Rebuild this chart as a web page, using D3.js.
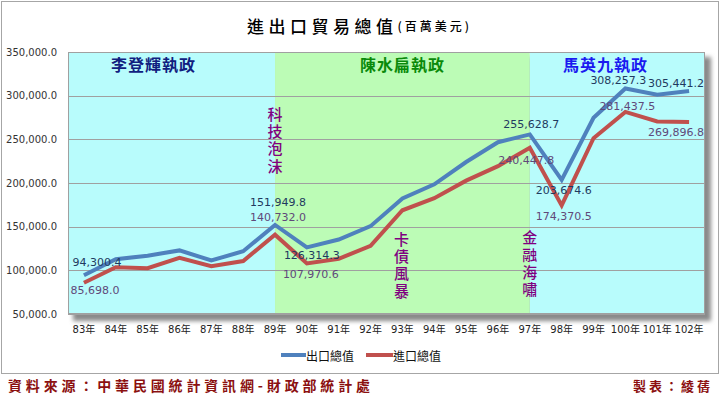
<!DOCTYPE html>
<html><head><meta charset="utf-8">
<script src="https://cdn.jsdelivr.net/npm/d3@7/dist/d3.min.js"></script>
<style>body{margin:0;background:#fff}svg{display:block}</style>
</head><body><div id="chart"></div>
<script>
const categories = ["83年","84年","85年","86年","87年","88年","89年","90年","91年","92年","93年","94年","95年","96年","97年","98年","99年","100年","101年","102年"];
const exportValues = [94300.4,112800,116800,122800,111300,121800,151949.8,126314.3,135317,150600,182370,198432,224017,246677,255628.7,203674.6,274600,308257.3,301181,305441.2];
const importValues = [85698.0,103550,102370,114425,104665,110690,140732.0,107970.6,113245,128010,168758,182614,202698,219252,240447.8,174370.5,251236,281437.5,270472,269896.8];
const yTicks = [50000,100000,150000,200000,250000,300000,350000];
const seriesNames = ["出口總值","進口總值"];
const eraNames = ["李登輝執政","陳水扁執政","馬英九執政"];
const eraBounds = [["83年","89年"],["89年","97年"],["97年","102年"]];
const eventNames = ["科技泡沫","卡債風暴","金融海嘯"];
const eventCats = ["89年","93年","97年"];
const labelledCats = ["83年","89年","90年","97年","98年","100年","102年"];
const titleText = "進出口貿易總值";
const titleUnit = "(百萬美元)";
const sourceText = "資料來源：中華民國統計資訊網-財政部統計處";
const authorText = "製表：綾蒨";

// layout / style (not data)
const W = 720, H = 397;
const plot = {l:68, t:52, r:705, b:314};
const colors = {exp:"#4F81BD", imp:"#C0504D", cyan:"#B8FCFC", green:"#BCFCB6"};
const eraColors = [colors.cyan, colors.green, colors.cyan];
const eraTextColors = ["#10207F","#0A8A0A","#1A1AF0"];
const eraLabelDx = [-18, 0, -12];
const eventPos = [[0,106.5],[-1,231.5],[0,230]];
const expLabelOff = [[13,-13],[3,-22.5],[5,8.5],[1.5,-9.5],[2,11],[-7,-8],[-13,-7.5]];
const impLabelOff = [[11,8],[3,-17],[4,11],[-3.5,12.5],[2,11],[2,-5.5],[-13,10.5]];

const svg = d3.select("#chart").append("svg").attr("width",W).attr("height",H);
const defs = svg.append("defs");
const f = defs.append("filter").attr("id","sh").attr("x","-10%").attr("y","-10%").attr("width","120%").attr("height","120%");
f.append("feGaussianBlur").attr("stdDeviation",2);

svg.append("rect").attr("x",1.5).attr("y",1.5).attr("width",717).attr("height",372)
  .attr("fill","#fff").attr("stroke","#A6A6A6").attr("stroke-width",1);

const x = d3.scaleBand().domain(categories).range([plot.l, plot.r]).padding(0);
const cx = c => x(c) + x.bandwidth()/2;
const y = d3.scaleLinear().domain([50000,350000]).range([plot.b, plot.t]);

// shadow
svg.append("rect").attr("x",plot.l+5).attr("y",plot.t+5).attr("width",plot.r-plot.l+1).attr("height",plot.b-plot.t+2)
  .attr("fill","#8a8a8a").attr("filter","url(#sh)");

// era backgrounds
eraBounds.forEach((b,i)=>{
  const x0 = i===0 ? plot.l : cx(b[0]);
  const x1 = i===eraBounds.length-1 ? plot.r : cx(b[1]);
  svg.append("rect").attr("x",x0).attr("y",plot.t).attr("width",x1-x0).attr("height",plot.b-plot.t).attr("fill",eraColors[i]);
});

// gridlines
svg.append("g").selectAll("line").data(yTicks).join("line")
  .attr("x1",plot.l).attr("x2",plot.r).attr("y1",d=>Math.round(y(d))+0.5).attr("y2",d=>Math.round(y(d))+0.5)
  .attr("stroke","#A0A0A0").attr("stroke-width",1);
svg.append("rect").attr("x",plot.l+0.5).attr("y",plot.t+0.5).attr("width",plot.r-plot.l-1).attr("height",plot.b-plot.t-1)
  .attr("fill","none").attr("stroke","#A0A0A0");

// y axis
const yAxis = d3.axisLeft(y).tickValues(yTicks).tickSize(0).tickPadding(0).tickFormat(d3.format(",.1f"));
const ya = svg.append("g").attr("transform",`translate(${plot.l-11},0)`).call(yAxis);
ya.select(".domain").remove();
ya.selectAll("text").attr("font-family","DejaVu Sans").attr("font-size",10).attr("fill","#333");

// x axis
const xAxis = d3.axisBottom(x).tickSize(0).tickPadding(0);
const xa = svg.append("g").attr("transform",`translate(0,${plot.b+12})`).call(xAxis);
xa.select(".domain").remove();
xa.selectAll("text").attr("font-family","DejaVu Sans, 'Noto Sans CJK TC'").attr("font-size",10).attr("fill","#222");

// era labels
eraNames.forEach((n,i)=>{
  const b = eraBounds[i];
  const x0 = i===0 ? plot.l : cx(b[0]);
  const x1 = i===eraBounds.length-1 ? plot.r : cx(b[1]);
  svg.append("text").attr("x",(x0+x1)/2+eraLabelDx[i]).attr("y",63.5).attr("text-anchor","middle")
    .attr("dominant-baseline","central").attr("font-family","'Noto Sans CJK TC'").attr("font-weight",700)
    .attr("font-size",16).attr("letter-spacing",1).attr("fill",eraTextColors[i]).text(n);
});

// lines
const line = vals => d3.line().x((d,i)=>cx(categories[i])).y(d=>y(d))(vals);
svg.append("path").attr("d",line(exportValues)).attr("fill","none").attr("stroke",colors.exp).attr("stroke-width",4).attr("stroke-linejoin","miter");
svg.append("path").attr("d",line(importValues)).attr("fill","none").attr("stroke",colors.imp).attr("stroke-width",4).attr("stroke-linejoin","miter");

// event labels (vertical writing)
eventNames.forEach((n,i)=>{
  svg.append("text").attr("x",cx(eventCats[i])+eventPos[i][0]).attr("y",eventPos[i][1])
    .style("writing-mode","vertical-rl").style("text-orientation","upright")
    .attr("font-family","'Noto Sans CJK TC'").attr("font-size",15).attr("font-weight",500).attr("letter-spacing",2.3).attr("fill","#800080")
    .text(n);
});

// data labels
const fmt = d3.format(",.1f");
labelledCats.forEach((c,k)=>{
  const i = categories.indexOf(c);
  svg.append("text").attr("x",cx(c)+impLabelOff[k][0]).attr("y",y(importValues[i])+impLabelOff[k][1])
    .attr("text-anchor","middle").attr("dominant-baseline","central").attr("font-family","DejaVu Sans")
    .attr("font-size",11).attr("fill","#60497A").text(fmt(importValues[i]));
  svg.append("text").attr("x",cx(c)+expLabelOff[k][0]).attr("y",y(exportValues[i])+expLabelOff[k][1])
    .attr("text-anchor","middle").attr("dominant-baseline","central").attr("font-family","DejaVu Sans")
    .attr("font-size",11).attr("fill","#1F3A60").text(fmt(exportValues[i]));
});

// legend
const leg = [[281,306,colors.exp],[366,393,colors.imp]];
seriesNames.forEach((n,i)=>{
  svg.append("line").attr("x1",leg[i][0]).attr("x2",leg[i][1]).attr("y1",355).attr("y2",355)
    .attr("stroke",leg[i][2]).attr("stroke-width",4);
  svg.append("text").attr("x",leg[i][1]).attr("y",355).attr("dominant-baseline","central")
    .attr("font-family","'Noto Sans CJK TC'").attr("font-size",12).attr("fill","#111").text(n);
});

// title
const tt = svg.append("text").attr("x",247).attr("y",25).attr("dominant-baseline","central")
  .attr("font-family","'Noto Sans CJK TC'").attr("font-weight",500).attr("fill","#000");
tt.append("tspan").attr("font-size",17).attr("letter-spacing",4.5).text(titleText);
tt.append("tspan").attr("font-size",12).attr("letter-spacing",3).text(titleUnit);

// footer
svg.append("text").attr("x",8).attr("y",385).attr("dominant-baseline","central")
  .attr("font-family","'Noto Sans CJK TC'").attr("font-weight",700).attr("font-size",14)
  .attr("fill","#8B1010").attr("textLength",362).attr("lengthAdjust","spacing").text(sourceText);
svg.append("text").attr("x",633).attr("y",385).attr("dominant-baseline","central")
  .attr("font-family","'Noto Sans CJK TC'").attr("font-weight",700).attr("font-size",13)
  .attr("fill","#8B1010").attr("textLength",77).attr("lengthAdjust","spacing").text(authorText);
</script></body></html>
